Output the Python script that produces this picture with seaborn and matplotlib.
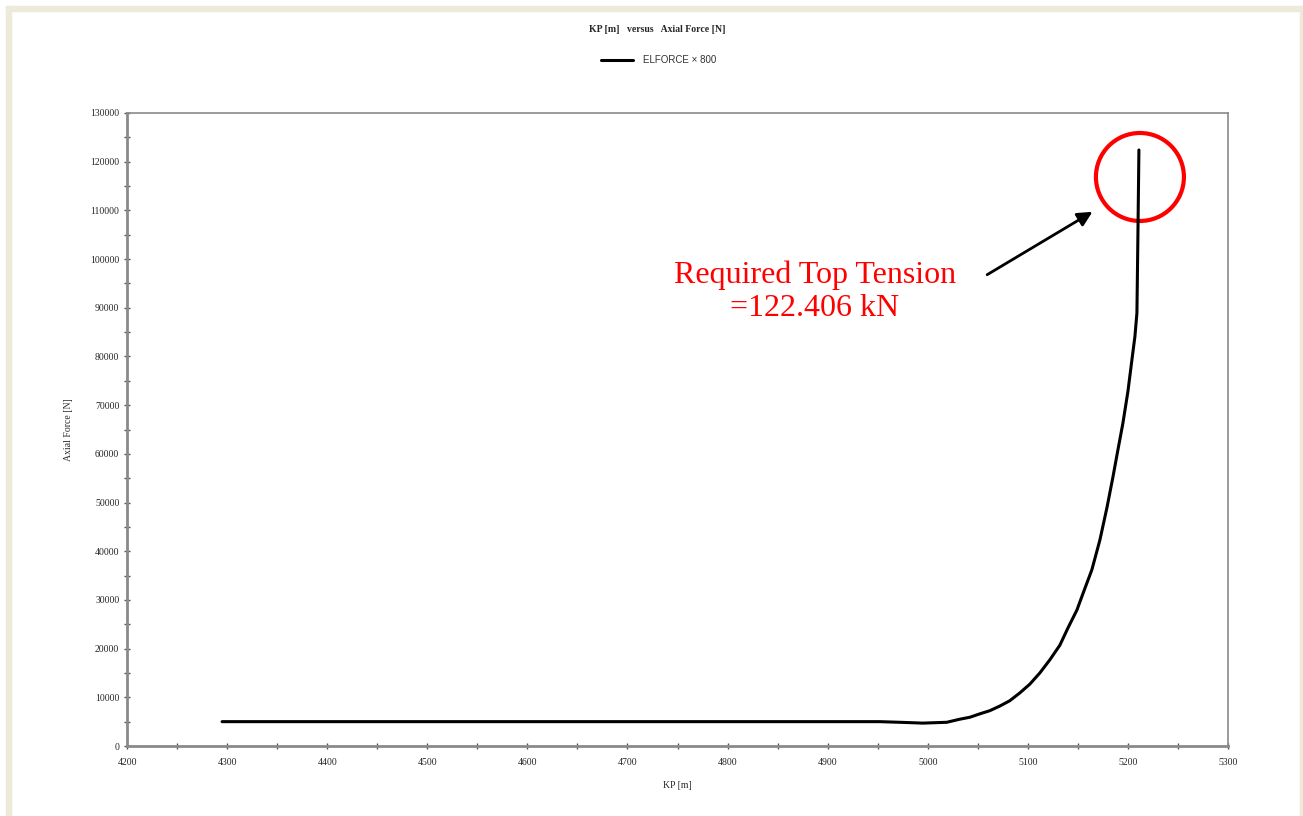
import numpy as np
import pandas as pd
import matplotlib
matplotlib.use("Agg")
import matplotlib.pyplot as plt
from matplotlib.patches import Circle, Rectangle
from matplotlib.transforms import ScaledTranslation
import seaborn as sns

# Axial force along the pipeline route (kilometre post in m, force in N)
kp = [4295, 4400, 4500, 4600, 4700, 4800, 4900, 4952, 4975, 4995, 5019,
      5032, 5042, 5052, 5062, 5072, 5082, 5092, 5102, 5112, 5122, 5132,
      5140, 5149, 5156, 5164, 5172, 5179, 5185, 5190, 5195, 5200, 5204,
      5207, 5209, 5210, 5211]
axial_force = [5000, 5000, 5000, 5000, 5000, 5000, 5000, 5000, 4850, 4700, 4870,
               5500, 5900, 6600, 7250, 8200, 9300, 10900, 12700, 15000, 17700, 20700,
               24200, 27900, 31800, 36200, 42300, 48900, 55200, 60800, 66300, 72800, 79300,
               84100, 88900, 105000, 122406]
series_name = "ELFORCE \u00d7 800"
top_tension_kn = 122.406

x_ticks = list(range(4200, 5301, 100))
y_ticks = list(range(0, 130001, 10000))

df = pd.DataFrame({"KP": kp, "Force": axial_force, "series": series_name})

sns.set_theme(style="white")
plt.rcParams["font.family"] = ["Liberation Serif", "DejaVu Serif"]

fig = plt.figure(figsize=(13.03, 8.16), dpi=100)
ax = fig.add_axes([127 / 1303, 1 - 746 / 816, (1228 - 127) / 1303, (746 - 113) / 816])

sns.lineplot(data=df, x="KP", y="Force", color="black", linewidth=2.2,
             sort=False, ax=ax, legend=False, solid_joinstyle="round")

ax.set_xlim(4200, 5300)
ax.set_ylim(0, 130000)
ax.set_xticks(x_ticks)
ax.set_yticks(y_ticks)
ax.set_xticks(np.arange(4250, 5300, 100), minor=True)
ax.set_yticks(np.arange(5000, 130000, 10000), minor=True)
ax.set_xticklabels([str(t) for t in x_ticks], fontsize=7)
ax.set_yticklabels([str(t) for t in y_ticks], fontsize=7)
ax.tick_params(axis="both", which="both", direction="inout", length=5, width=1,
               color="#555555", pad=3, bottom=True, left=True)
ax.tick_params(axis="x", which="major", pad=6)

for side in ["left", "bottom"]:
    ax.spines[side].set_color("#8a8a8a")
    ax.spines[side].set_linewidth(2.0)
for side in ["top", "right"]:
    ax.spines[side].set_color("#8a8a8a")
    ax.spines[side].set_linewidth(1.2)

ax.set_xlabel("KP [m]", fontsize=7, labelpad=10)
ax.set_ylabel("Axial Force [N]", fontsize=7, labelpad=12)

# Title and legend above the plot area
fig.text(657 / 1303, 1 - 29 / 816, "KP [m]   versus   Axial Force [N]",
         ha="center", va="center", fontsize=7, fontweight="bold")
fig.lines.append(plt.Line2D([601 / 1303, 633 / 1303], [1 - 60 / 816, 1 - 60 / 816],
                            color="black", linewidth=2.2, transform=fig.transFigure))
fig.text(643 / 1303, 1 - 60 / 816, series_name, ha="left", va="center",
         fontsize=7, family=["Liberation Sans Narrow", "Liberation Sans", "DejaVu Sans"],
         color="#333333")

# Highlight of the top tension
circle_tf = fig.dpi_scale_trans + ScaledTranslation(5212, 116860, ax.transData)
ax.add_patch(Circle((0, 0), radius=0.44, transform=circle_tf, fill=False,
                    edgecolor="red", linewidth=3, clip_on=False))
ax.annotate("", xy=(5167, 110000), xytext=(5057, 96500),
            arrowprops=dict(arrowstyle="-|>", color="black", lw=2,
                            mutation_scale=22))
ax.text(4887, 93300, f"Required Top Tension\n={top_tension_kn:.3f} kN",
        ha="center", va="center", color="red", fontsize=23, linespacing=1.15)

# Beige page frame
frame = "#eeeadb"
fig.patches.append(Rectangle((6 / 1303, 0), 5 / 1303, 1 - 6 / 816,
                             transform=fig.transFigure, color=frame, zorder=0))
fig.patches.append(Rectangle((6 / 1303, 1 - 11 / 816), 1297 / 1303, 5 / 816,
                             transform=fig.transFigure, color=frame, zorder=0))
fig.patches.append(Rectangle((1300 / 1303, 0), 3 / 1303, 1 - 6 / 816,
                             transform=fig.transFigure, color=frame, zorder=0))

fig.savefig("out.png", dpi=100, facecolor="white")
